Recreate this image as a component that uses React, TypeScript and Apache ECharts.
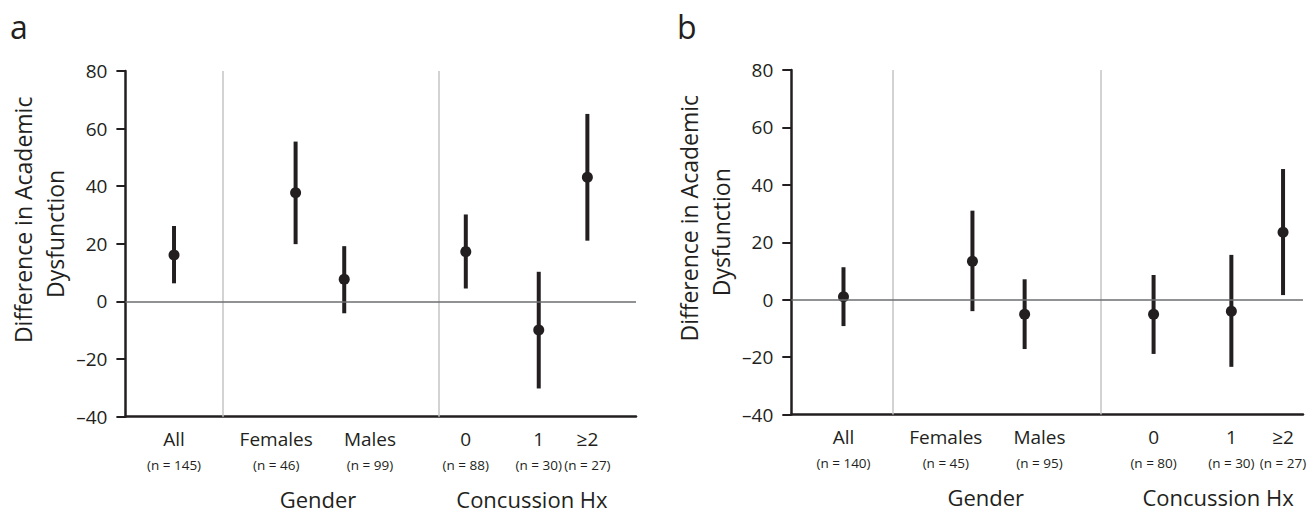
import React, { useEffect, useRef } from "react";
import * as echarts from "echarts";

// ---------- data ----------
const categories = ["All", "Females", "Males", "0", "1", "≥2"];
const groupNames = ["Gender", "Concussion Hx"];
const yTicks = [-40, -20, 0, 20, 40, 60, 80];

// panel a
const nA = [145, 46, 99, 88, 30, 27];
const meanA = [16.1, 37.7, 7.7, 17.3, -9.9, 43.1];
const lowA = [6.3, 19.9, -4.1, 4.5, -30.2, 21.1];
const highA = [26.2, 55.5, 19.2, 30.2, 10.3, 65.1];

// panel b
const nB = [140, 45, 95, 80, 30, 27];
const meanB = [1.0, 13.4, -5.1, -5.1, -4.0, 23.5];
const lowB = [-9.2, -4.0, -17.2, -18.9, -23.4, 1.6];
const highB = [11.3, 31.0, 7.1, 8.6, 15.6, 45.5];

// x placement along each panel's category axis
const xMaxA = 10.5;
const pointXA = [1, 3.5, 4.5, 7, 8.5, 9.5];
const labelXA = [1, 3.1, 5.03, 7, 8.5, 9.5];
const sepXA = [2.0, 6.45];
const groupXA = [3.96, 8.36];

const xMaxB = 10;
const pointXB = [1.02, 3.54, 4.56, 7.08, 8.6, 9.61];
const labelXB = [1.02, 3.02, 4.85, 7.08, 8.6, 9.61];
const sepXB = [1.99, 6.05];
const groupXB = [3.8, 8.34];

// ---------- styles ----------
const INK = "#231f20";
const FONT = '"Open Sans", "Noto Sans", sans-serif';

function nearest(list: number[], v: number) {
  let best = 0;
  for (let i = 1; i < list.length; i++) {
    if (Math.abs(list[i] - v) < Math.abs(list[best] - v)) best = i;
  }
  return best;
}

function buildPanel(
  gi: number,
  xMax: number,
  pointX: number[],
  labelX: number[],
  sepX: number[],
  groupX: number[],
  ns: number[],
  mean: number[],
  low: number[],
  high: number[]
) {
  const xAxes = [
    {
      gridIndex: gi,
      type: "value",
      min: 0,
      max: xMax,
      position: "bottom",
      axisLine: { show: true, onZero: false, lineStyle: { color: INK, width: 2.5 } },
      axisTick: { show: false },
      splitLine: { show: false },
      axisLabel: {
        customValues: labelX,
        margin: 10,
        formatter: (v: number) => {
          const i = nearest(labelX, v);
          return `{c|${categories[i]}}\n{n|(n = ${ns[i]})}`;
        },
        rich: {
          c: { fontSize: 19, lineHeight: 24, fontFamily: FONT, color: INK },
          n: { fontSize: 13.5, lineHeight: 28, fontFamily: FONT, color: INK },
        },
      },
    },
    {
      gridIndex: gi,
      type: "value",
      min: 0,
      max: xMax,
      position: "bottom",
      axisLine: { show: false, onZero: false },
      axisTick: { show: false },
      splitLine: { show: false },
      axisLabel: {
        customValues: groupX,
        margin: 72,
        fontSize: 22,
        lineHeight: 20,
        fontFamily: FONT,
        color: INK,
        formatter: (v: number) => groupNames[nearest(groupX, v)],
      },
    },
  ];
  const yAxis = {
    gridIndex: gi,
    type: "value",
    min: yTicks[0],
    max: yTicks[yTicks.length - 1],
    interval: yTicks[1] - yTicks[0],
    axisLine: { show: true, onZero: false, lineStyle: { color: INK, width: 2.5 } },
    axisTick: { show: true, length: 9, lineStyle: { color: INK, width: 2 } },
    splitLine: { show: false },
    axisLabel: {
      margin: 18,
      fontSize: 19,
      fontFamily: FONT,
      color: INK,
      formatter: (v: number) => (v < 0 ? "\u2013" + Math.abs(v) : String(v)),
    },
    name: "{l1|Difference in Academic}\n{l2|Dysfunction}",
    nameLocation: "middle",
    nameGap: 54,
    nameTextStyle: {
      fontSize: 23,
      lineHeight: 32,
      fontFamily: FONT,
      color: INK,
      rich: {
        l1: { fontSize: 23, lineHeight: 32, fontFamily: FONT, color: INK, padding: [0, 0, 0, 48] },
        l2: { fontSize: 23, lineHeight: 32, fontFamily: FONT, color: INK, padding: [0, 0, 0, 20] },
      },
    },
  };
  const refSeries = {
    type: "line",
    xAxisIndex: gi * 2,
    yAxisIndex: gi,
    data: [],
    silent: true,
    z: 1,
    markLine: {
      silent: true,
      symbol: ["none", "none"],
      label: { show: false },
      animation: false,
      data: [
        ...sepX.map((x) => ({ xAxis: x, lineStyle: { color: "#c4c4c4", width: 1.5, type: "solid" } })),
        { yAxis: 0, lineStyle: { color: "#6d6e71", width: 1.5, type: "solid" } },
      ],
    },
  };
  const barSeries = {
    type: "custom",
    xAxisIndex: gi * 2,
    yAxisIndex: gi,
    z: 3,
    encode: { x: 0, y: 1 },
    data: pointX.map((x, i) => [x, mean[i], low[i], high[i]]),
    renderItem: (_p: any, api: any) => {
      const x = api.value(0);
      const p0 = api.coord([x, api.value(2)]);
      const p1 = api.coord([x, api.value(3)]);
      const pm = api.coord([x, api.value(1)]);
      return {
        type: "group",
        children: [
          {
            type: "line",
            shape: { x1: p0[0], y1: p0[1], x2: p1[0], y2: p1[1] },
            style: { stroke: INK, lineWidth: 4 },
          },
          {
            type: "circle",
            shape: { cx: pm[0], cy: pm[1], r: 5.5 },
            style: { fill: INK },
          },
        ],
      };
    },
  };
  return { xAxes, yAxis, series: [refSeries, barSeries] };
}

export default function App() {
  const ref = useRef<HTMLDivElement>(null);
  useEffect(() => {
    if (!ref.current) return;
    const chart = echarts.init(ref.current, undefined, { renderer: "svg" });
    const pa = buildPanel(0, xMaxA, pointXA, labelXA, sepXA, groupXA, nA, meanA, lowA, highA);
    const pb = buildPanel(1, xMaxB, pointXB, labelXB, sepXB, groupXB, nB, meanB, lowB, highB);
    chart.setOption({
      animation: false,
      backgroundColor: "#ffffff",
      grid: [
        { left: 125.4, right: 675, top: 71, bottom: 96.3 },
        { left: 791.3, right: 8, top: 70, bottom: 98.5 },
      ],
      xAxis: [...pa.xAxes, ...pb.xAxes],
      yAxis: [pa.yAxis, pb.yAxis],
      series: [...pa.series, ...pb.series],
      graphic: [
        {
          type: "text",
          left: 10,
          top: 10,
          style: { text: "a", font: `32px ${FONT}`, fill: INK },
        },
        {
          type: "text",
          left: 677,
          top: 10,
          style: { text: "b", font: `32px ${FONT}`, fill: INK },
        },
      ],
    });
    return () => chart.dispose();
  }, []);
  return (
    <div
      ref={ref}
      style={{ position: "fixed", left: 0, top: 0, width: 1311, height: 513 }}
    />
  );
}
